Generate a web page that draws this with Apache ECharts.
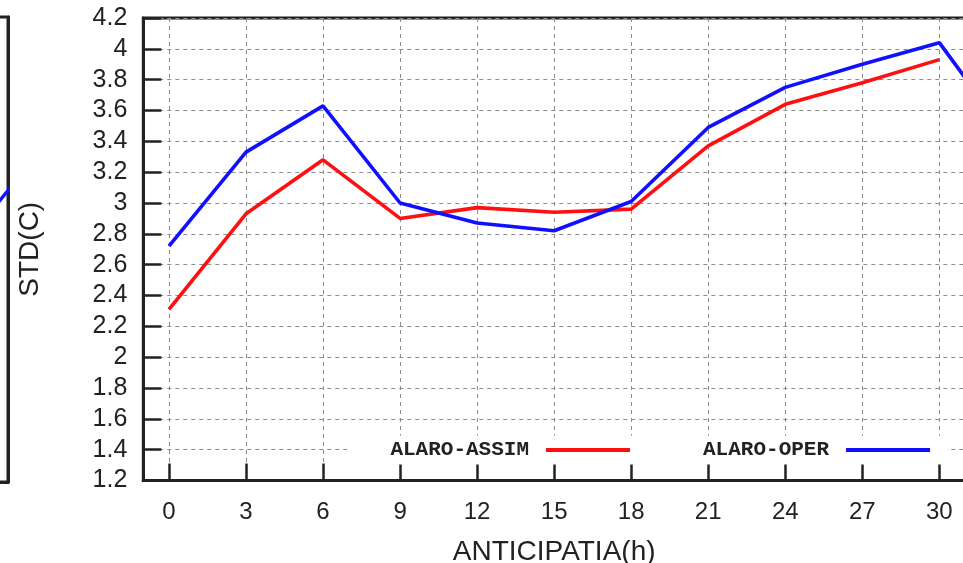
<!DOCTYPE html>
<html>
<head>
<meta charset="utf-8">
<script src="https://cdn.jsdelivr.net/npm/echarts@6/dist/echarts.min.js"></script>
<style>
  html, body { margin: 0; padding: 0; background: #fff; }
  #chart { width: 963px; height: 563px; }
</style>
</head>
<body>
<div id="chart"></div>
<script>
// ---- data ----
const hours = [0, 3, 6, 9, 12, 15, 18, 21, 24, 27, 30];
const assimValues = [2.31, 2.93, 3.28, 2.90, 2.97, 2.94, 2.96, 3.37, 3.64, 3.78, 3.93];
const operHours = [0, 3, 6, 9, 12, 15, 18, 21, 24, 27, 30, 33];
const operValues = [2.72, 3.33, 3.63, 3.00, 2.87, 2.82, 3.01, 3.49, 3.75, 3.90, 4.04, 3.36];
// fragment of the neighbouring (cropped) panel on the left
const leftPanelHours = [30, 33];
const leftPanelOper = [2.88, 3.48];

const seriesNames = ['ALARO-ASSIM', 'ALARO-OPER'];
const xAxisTitle = 'ANTICIPATIA(h)';
const yAxisTitle = 'STD(C)';

const pairs = (xs, ys) => xs.map((x, i) => [x, ys[i]]);

const chart = echarts.init(document.getElementById('chart'), null, { renderer: 'canvas' });

const ink = '#222';
const gridLine = { show: true, lineStyle: { color: '#8c8c8c', width: 1, type: [4, 4] } };

chart.setOption({
  backgroundColor: '#fff',
  animation: false,
  grid: [
    { left: 143.3, right: -2, top: 18, bottom: 82.5, show: true, borderColor: ink, borderWidth: 3,
      backgroundColor: 'transparent', outerBoundsMode: 'none' },
    { left: -813.6, right: 955, top: 17, bottom: 81, show: true, borderColor: ink, borderWidth: 3,
      backgroundColor: 'transparent', outerBoundsMode: 'none' }
  ],
  legend: {
    data: seriesNames,
    left: 347,
    top: 435.5,
    orient: 'horizontal',
    align: 'right',
    icon: 'rect',
    itemWidth: 84,
    itemHeight: 3.8,
    itemGap: 73,
    padding: [4, 17, 4, 43.4],
    backgroundColor: '#fff',
    textStyle: {
      fontFamily: 'Liberation Mono',
      fontWeight: 'bold',
      fontSize: 21,
      color: ink,
      padding: [0, 12, 0, 0]
    }
  },
  xAxis: [
    {
      type: 'value',
      gridIndex: 0,
      min: -1,
      max: 31,
      minInterval: 3,
      maxInterval: 3,
      splitNumber: 11,
      name: xAxisTitle,
      nameLocation: 'middle',
      nameGap: 58,
      nameTextStyle: { fontFamily: 'Liberation Sans', fontSize: 28, color: ink },
      axisLine: { show: true, onZero: false, lineStyle: { color: ink, width: 3 } },
      axisTick: { show: true, inside: true, length: 17, lineStyle: { color: ink, width: 2.5 } },
      axisLabel: {
        showMinLabel: false,
        showMaxLabel: false,
        margin: 20,
        fontFamily: 'Liberation Sans',
        fontSize: 24,
        color: ink,
        formatter: v => (v % 3 === 0 ? String(v) : '')
      },
      splitLine: gridLine
    },
    {
      type: 'value',
      gridIndex: 1,
      min: -1,
      max: 31,
      axisLine: { show: true, onZero: false, lineStyle: { color: ink, width: 3 } },
      axisTick: { show: false },
      axisLabel: { show: false },
      splitLine: { show: false }
    }
  ],
  yAxis: [
    {
      type: 'value',
      gridIndex: 0,
      min: 1.2,
      max: 4.2,
      interval: 0.2,
      name: yAxisTitle,
      nameLocation: 'middle',
      nameGap: 99,
      nameRotate: 90,
      nameTextStyle: { fontFamily: 'Liberation Sans', fontSize: 28, color: ink },
      axisLine: { show: true, onZero: false, lineStyle: { color: ink, width: 3 } },
      axisTick: { show: true, inside: true, length: 18, lineStyle: { color: ink, width: 2.5 } },
      axisLabel: {
        margin: 16,
        fontFamily: 'Liberation Sans',
        fontSize: 25,
        color: ink
      },
      splitLine: gridLine
    },
    {
      type: 'value',
      gridIndex: 1,
      min: 1.2,
      max: 4.2,
      position: 'right',
      axisLine: { show: true, onZero: false, lineStyle: { color: ink, width: 3 } },
      axisTick: { show: false },
      axisLabel: { show: false },
      splitLine: { show: false }
    }
  ],
  series: [
    {
      name: seriesNames[0],
      type: 'line',
      xAxisIndex: 0,
      yAxisIndex: 0,
      data: pairs(hours, assimValues),
      symbol: 'none',
      clip: true,
      color: '#ff1010',
      lineStyle: { color: '#ff1010', width: 3.6 },
      z: 3
    },
    {
      name: seriesNames[1],
      type: 'line',
      xAxisIndex: 0,
      yAxisIndex: 0,
      data: pairs(operHours, operValues),
      symbol: 'none',
      clip: true,
      color: '#1010ff',
      lineStyle: { color: '#1010ff', width: 3.6 },
      z: 3
    },
    {
      name: 'left-panel',
      type: 'line',
      xAxisIndex: 1,
      yAxisIndex: 1,
      data: pairs(leftPanelHours, leftPanelOper),
      symbol: 'none',
      clip: true,
      color: '#1010ff',
      lineStyle: { color: '#1010ff', width: 3.4 },
      z: 3
    }
  ]
});
</script>
</body>
</html>
